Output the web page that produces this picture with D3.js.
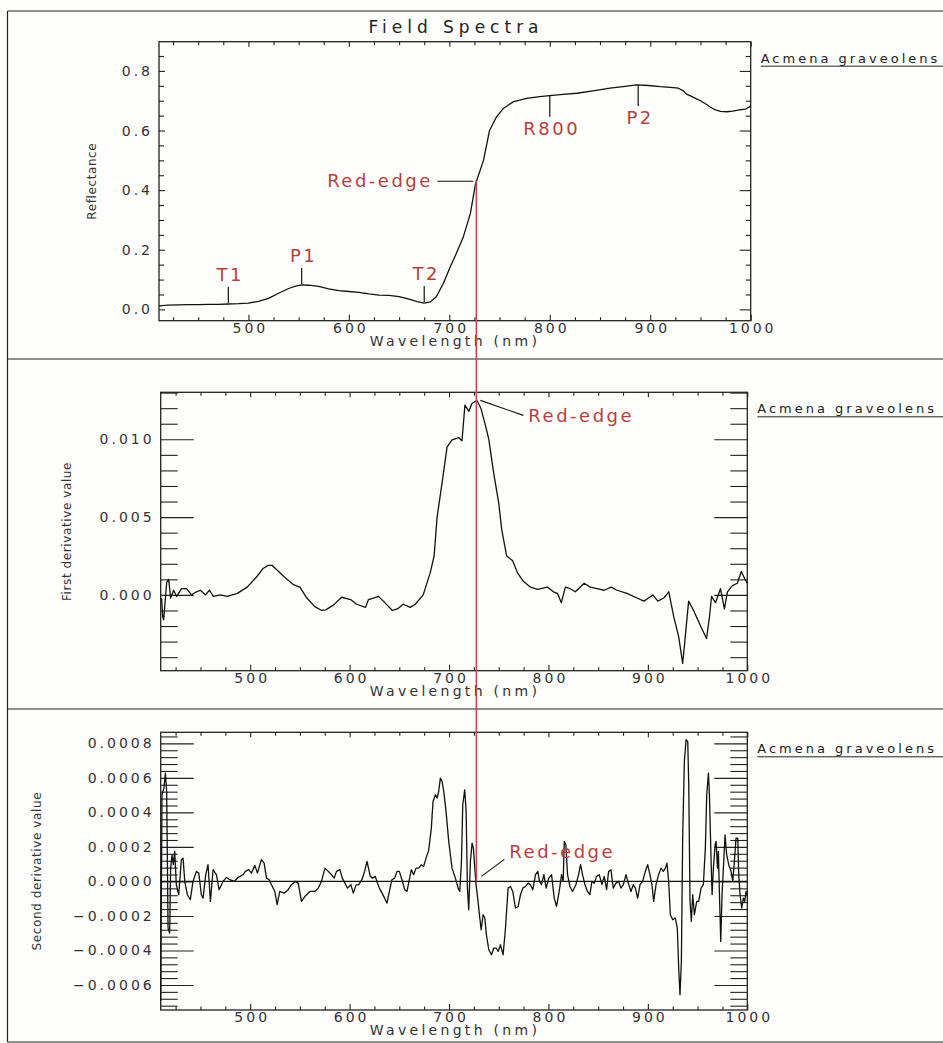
<!DOCTYPE html>
<html>
<head>
<meta charset="utf-8">
<script src="https://cdn.jsdelivr.net/npm/d3@7"></script>
<style>
  body { margin: 0; background: #fdfdfb; }
  svg { display: block; }
</style>
</head>
<body>
<div id="chart"></div>
<script>
// ---- data ----
var waveTicks = [500, 600, 700, 800, 900, 1000];
var reflTicks = [0, 0.2, 0.4, 0.6, 0.8];
var firstTicks = [0, 0.005, 0.010];
var secondTicks = [-0.0006, -0.0004, -0.0002, 0, 0.0002, 0.0004, 0.0006, 0.0008];

var reflWave = [411,420,430,440,450,460,470,480,490,500,510,520,530,540,547,553,560,570,580,590,
  600,610,620,630,640,650,660,668,675,681,687,694,701,707,714,721,726,734,740,747,754,764,777,790,800,
  813,827,843,860,875,886,898,910,920,928,933,936,940,945,950,955,960,965,970,976,982,989,995,1000];
var reflValue = [0.012,0.014,0.015,0.016,0.016,0.017,0.017,0.018,0.019,0.021,0.027,0.037,0.054,0.070,0.078,0.082,0.081,0.077,0.069,0.063,
  0.060,0.057,0.052,0.048,0.047,0.043,0.034,0.026,0.021,0.025,0.042,0.087,0.143,0.188,0.244,0.322,0.42,0.50,0.60,0.646,0.675,0.697,0.708,0.714,0.717,
  0.721,0.725,0.733,0.742,0.748,0.753,0.751,0.747,0.745,0.742,0.733,0.722,0.716,0.708,0.700,0.690,0.678,0.669,0.664,0.663,0.665,0.669,0.672,0.682];

var firstWave = [410,411,412,413,416,418,420,423,426,431,
  436,441,446,450,455,459,463,470,477,487,
  497,507,513,518,522,527,532,537,544,550,
  557,565,572,576,584,592,601,607,616,619,
  624,629,634,643,648,654,661,666,674,681,
  685,688,693,698,703,710,713,716,720,723,
  728,732,737,740,745,750,753,758,764,769,
  775,782,789,799,805,809,813,817,822,827,
  836,842,849,856,863,869,879,889,896,905,
  910,916,921,926,931,935,937,941,946,953,
  959,962,964,968,973,977,980,985,990,994,
  998,1000];
var firstValue = [-0.0002,-0.0003,-0.0014,-0.0016,0.0008,0.001,-0.0002,0.0003,-0.0001,0.0004,
  0.0004,0,0.0002,0.0003,0,0.0003,-0.0001,0,-0.0001,0.0001,
  0.0005,0.0012,0.0017,0.0019,0.0019,0.0016,0.0013,0.001,0.00064,0.0005,
  -0.0002,-0.00075,-0.001,-0.00096,-0.00064,-0.00015,-0.0003,-0.0006,-0.0008,-0.0003,
  -0.0002,-0.0001,-0.0004,-0.001,-0.0009,-0.0006,-0.0008,-0.0006,0,0.0014,
  0.0025,0.005,0.0072,0.0095,0.00996,0.0101,0.0099,0.0122,0.0118,0.0123,
  0.0125,0.012,0.0108,0.01,0.0078,0.0059,0.0042,0.0025,0.0022,0.0014,
  0.00086,0.0005,0.00036,0.0005,0.0002,0.0001,-0.0005,0.0005,0.0004,0.0002,
  0.00075,0.0005,0.0004,0.0003,0.0005,0.0003,0.0001,-0.0002,-0.0004,0,
  -0.0004,-0.0002,0.0002,-0.0014,-0.0027,-0.0044,-0.0031,-0.0004,-0.001,-0.002,
  -0.0028,-0.0014,-0.0001,-0.0005,0.0004,-0.0009,0.0002,0.0006,0.00075,0.0015,
  0.00096,0.00075];

var secondWave = [410,411.3,413.3,414.7,416,417.4,419,420,421.4,422.7,
  424.1,425.7,428.1,430.8,432.5,434.2,436.8,439.8,442.5,445.9,
  448.3,450.9,452.6,455.3,457.6,460,462.7,466,468.7,472.7,
  476.1,479.5,483.8,487.8,492.9,495.2,498.6,501.2,504.7,507.3,
  511.3,514,516.4,519.1,521.4,524.8,527.1,529.8,534.2,538.2,
  541.5,545.6,548.3,551.6,555,560,565.1,568.4,571.7,575.2,
  578.5,581.8,584.5,586.8,590.3,592.6,595.3,597.9,601.3,603.7,
  606.5,609,612.4,615.1,617.5,620.8,623.2,625.8,627.5,629.9,
  632.6,635.2,637.6,640,642.6,645.3,647.7,650,652.7,655.4,
  657.7,660.1,662.1,664.4,666.8,669.5,672.2,674.5,676.9,679.6,
  682.2,683.9,686.3,688,689.6,691.3,693,694.7,697,699.7,
  703,706.4,709.1,710.8,712.5,713.8,715.8,717.2,718.5,719.8,
  721.5,723.2,724.5,725.9,727.2,729.2,730.6,732.3,734.3,736,
  737.6,740,742.7,745,747.4,749.4,751.7,754.4,756.8,759.4,
  761.8,764.1,766.8,769.5,771.9,774.2,776.9,779.6,781.9,784.3,
  787,789.3,791,793,795.4,797.7,800.4,803.1,805.8,808.1,
  810.8,813.2,814.8,815.9,817.5,819.2,821.6,824.2,827.6,830.3,
  832.3,834.3,836.7,839.3,841.7,843.7,846.1,848.4,851.1,853.8,
  856.1,858.5,860.5,862.8,865.2,867.9,870.6,872.9,875.3,878,
  880.3,883,885.3,887.4,889.7,892.1,894.7,897.4,899.8,902.1,
  904.1,905.8,908.2,910.8,913.2,915.5,917.6,919.2,920.9,922.6,
  925,927.6,929.6,931,932.3,933.7,935,936.7,938.4,940.1,
  941.1,942.4,943.7,945.1,946.8,949.1,951.1,953.5,955.8,957.8,
  959.2,960.9,961.9,963.6,964.6,965.9,967.6,968.6,970,970.9,
  972,973.3,974.6,976.3,977.6,979.3,981.3,983.7,985.4,987,
  988.7,990.4,991.4,992.7,994.4,996.1,997.4,998.8,1000];
var secondValue = [-0.000695,0.000502,0.000541,0.000628,0.000521,-0.00027,-0.0003,0.000077,0.000154,0.000097,
  0.000174,-0.000019,-0.000077,0.000126,0.000135,0,-0.000077,-0.000106,0,0.000058,
  0.000048,-0.000077,-0.000097,0.000039,0.000097,-0.000116,0.000068,0.000039,-0.000048,0,
  0.000023,0.00001,0,0.000023,0.000039,0.000058,0.000068,0.000048,0.000093,0.000048,
  0.000126,0.000106,0.000019,0.00001,-0.000019,-0.000058,-0.000135,-0.000058,-0.000068,-0.000048,
  -0.000019,0,-0.00001,-0.000116,-0.000087,-0.000058,-0.000058,-0.000039,0,0.000077,
  0.000058,0.000039,0.000019,0.000058,0.000068,0.000019,-0.00001,-0.000039,-0.000019,-0.000068,
  -0.00002,-0.00002,0.00001,0.000058,0.000116,0.000029,0.000019,0.000029,0,-0.000039,
  -0.000068,-0.000097,-0.000126,-0.000058,0.00001,0.000019,0.000058,0.000058,0.00001,-0.000048,
  -0.000058,0.00001,0.000068,0.000039,0.000077,0.000077,0.000097,0.000087,0.000135,0.000183,
  0.000309,0.000463,0.000502,0.000483,0.000521,0.000599,0.000579,0.000521,0.000406,0.000232,
  0.000077,0.000019,-0.000039,-0.000058,0.000116,0.000444,0.000531,0.000406,-0.000039,-0.000164,
  0.000116,0.000222,0.000193,0.000077,-0.000019,-0.000116,-0.000193,-0.00028,-0.000193,-0.000212,
  -0.000309,-0.000396,-0.000425,-0.000386,-0.000386,-0.000406,-0.000367,-0.000425,-0.00027,-0.000039,
  -0.000029,-0.000058,-0.000154,-0.000145,-0.000077,-0.000039,-0.000029,-0.00001,-0.000019,-0.000048,
  0.000039,0.000058,0,-0.000019,0.000039,-0.000039,0.000019,0.000039,-0.000097,-0.000145,
  -0.000058,0.000039,0,0.000232,0.000212,0.000039,-0.000029,-0.000058,-0.000019,0.000039,
  0.000097,0.000039,-0.000019,-0.000058,-0.000077,0,-0.00001,0.000029,0.000039,-0.000019,
  0.000029,-0.000048,0.000058,0.000068,-0.000039,-0.00001,0,-0.000039,-0.000019,0.000039,
  -0.00001,-0.000058,-0.000019,-0.000039,-0.000097,-0.000019,0,0.000058,0.000097,0.000039,
  -0.000019,-0.000116,-0.000019,0.000039,0.000077,0.000058,0.000077,0.000106,0,-0.000193,
  -0.000222,-0.000212,-0.00027,-0.000502,-0.000657,-0.000463,0.000251,0.000695,0.000821,0.000811,
  0.00056,-0.000116,-0.000232,-0.000077,-0.000193,-0.000116,-0.000116,-0.000039,-0.000019,0.000193,
  0.000502,0.000628,0.000502,0.000116,-0.000077,0.000077,0.000212,0.000232,0.000077,0.000174,
  -0.000077,-0.000348,-0.000077,0.000116,0.00027,0.000154,0.000097,0.000058,0,0.000116,
  0.000251,0.000251,0.000039,-0.000077,-0.000154,-0.000097,-0.000116,-0.000058,-0.000077];

var featureNames = ['T1', 'P1', 'T2', 'R800', 'P2'];
var featureWaves = [480, 553, 675, 800, 888];
var featureRefl = [0.018, 0.082, 0.021, 0.717, 0.753];

var redEdgeWave = 727.5;
var redEdgeRefl = 0.43;
var redEdgeFirst = 0.0125;

var chartTitle = 'Field Spectra';
var speciesName = 'Acmena graveolens';
var xTitle = 'Wavelength (nm)';

// ---- layout ----
var width = 943, height = 1043;
var font = "'DejaVu Sans', sans-serif";
var red = '#b5403f';

var panels = [
  { wave: reflWave, value: reflValue, x0: 159, x1: 750.7, y0: 41.7, y1: 320.7,
    xDomain: [411, 1000], yDomain: [-0.038, 0.898], ticks: reflTicks,
    minor: d3.range(0, 18).map(function(i) { return i * 0.05; }),
    fmt: d3.format('.1f'), tickL: [6, 5], tickR: [11, 5], label: 'Reflectance', labelX: 96 },
  { wave: firstWave, value: firstValue, x0: 160.7, x1: 747.3, y0: 392.3, y1: 670.7,
    xDomain: [410, 1000], yDomain: [-0.00487, 0.01302], ticks: firstTicks,
    minor: d3.range(-4, 14).map(function(i) { return i * 0.001; }),
    fmt: d3.format('.3f'), tickL: [33, 17], tickR: [33, 17], label: 'First derivative value', labelX: 71 },
  { wave: secondWave, value: secondValue, x0: 160.7, x1: 747.3, y0: 732.3, y1: 1010,
    xDomain: [410, 1000], yDomain: [-0.000745, 0.000864], ticks: secondTicks,
    minor: d3.range(-18, 22).map(function(i) { return i * 0.00004; }),
    fmt: d3.format('.4f'), tickL: [33, 17], tickR: [33, 17], label: 'Second derivative value', labelX: 41,
    zeroLine: true }
];

var svg = d3.select('#chart').append('svg')
  .attr('width', width)
  .attr('height', height)
  .style('background', '#fdfdfb');

// outer frame and panel separators
var frameRows = [11, 359, 709, 1042];
frameRows.forEach(function(y) {
  svg.append('line').attr('x1', 7.5).attr('x2', width).attr('y1', y).attr('y2', y)
    .attr('stroke', '#222').attr('stroke-width', 1.2);
});
svg.append('line').attr('x1', 7.5).attr('x2', 7.5).attr('y1', 11).attr('y2', 1042)
  .attr('stroke', '#222').attr('stroke-width', 1.2);

svg.append('text')
  .attr('x', 456).attr('y', 33)
  .attr('text-anchor', 'middle')
  .attr('font-family', font).attr('font-size', 17)
  .attr('letter-spacing', 5)
  .attr('fill', '#222')
  .text(chartTitle);

var isMajor = function(v, ticks) {
  return ticks.some(function(t) { return Math.abs(t - v) < 1e-9; });
};

var drawPanel = function(p) {
  p.x = d3.scaleLinear().domain(p.xDomain).range([p.x0, p.x1]);
  p.y = d3.scaleLinear().domain(p.yDomain).range([p.y1, p.y0]);

  var minorY = p.minor.filter(function(v) {
    return !isMajor(v, p.ticks) && v >= p.yDomain[0] && v <= p.yDomain[1];
  });
  var minorX = d3.range(425, 1000, 25).filter(function(v) { return v % 100 !== 0; });

  var axisStyle = function(g) {
    g.select('.domain').remove();
    g.selectAll('line').attr('stroke', '#222').attr('stroke-width', 1.1);
  };

  // left axis
  svg.append('g').attr('transform', 'translate(' + p.x0 + ',0)')
    .call(d3.axisLeft(p.y).tickValues(p.ticks).tickSizeInner(-p.tickL[0]).tickSizeOuter(0)
      .tickPadding(6).tickFormat(p.fmt))
    .call(axisStyle)
    .call(function(g) {
      g.selectAll('text').attr('font-family', font).attr('font-size', 14)
        .attr('letter-spacing', 3).attr('fill', '#333');
    });
  svg.append('g').attr('transform', 'translate(' + p.x0 + ',0)')
    .call(d3.axisLeft(p.y).tickValues(minorY).tickSizeInner(-p.tickL[1]).tickSizeOuter(0).tickFormat(''))
    .call(axisStyle);

  // right axis
  svg.append('g').attr('transform', 'translate(' + p.x1 + ',0)')
    .call(d3.axisRight(p.y).tickValues(p.ticks).tickSizeInner(-p.tickR[0]).tickSizeOuter(0).tickFormat(''))
    .call(axisStyle);
  svg.append('g').attr('transform', 'translate(' + p.x1 + ',0)')
    .call(d3.axisRight(p.y).tickValues(minorY).tickSizeInner(-p.tickR[1]).tickSizeOuter(0).tickFormat(''))
    .call(axisStyle);

  // bottom axis
  svg.append('g').attr('transform', 'translate(0,' + p.y1 + ')')
    .call(d3.axisBottom(p.x).tickValues(waveTicks).tickSizeInner(-6).tickSizeOuter(0).tickFormat(d3.format('d')))
    .call(axisStyle)
    .call(function(g) {
      g.selectAll('text').attr('y', 12).attr('dy', null).attr('dx', 1.5)
        .attr('font-family', font).attr('font-size', 14)
        .attr('letter-spacing', 3).attr('fill', '#333');
    });
  svg.append('g').attr('transform', 'translate(0,' + p.y1 + ')')
    .call(d3.axisBottom(p.x).tickValues(minorX).tickSizeInner(-3.5).tickSizeOuter(0).tickFormat(''))
    .call(axisStyle);

  // top axis
  svg.append('g').attr('transform', 'translate(0,' + p.y0 + ')')
    .call(d3.axisTop(p.x).tickValues(waveTicks).tickSizeInner(-5).tickSizeOuter(0).tickFormat(''))
    .call(axisStyle);
  svg.append('g').attr('transform', 'translate(0,' + p.y0 + ')')
    .call(d3.axisTop(p.x).tickValues(minorX).tickSizeInner(-3.5).tickSizeOuter(0).tickFormat(''))
    .call(axisStyle);

  svg.append('rect')
    .attr('x', p.x0).attr('y', p.y0)
    .attr('width', p.x1 - p.x0).attr('height', p.y1 - p.y0)
    .attr('fill', 'none').attr('stroke', '#222').attr('stroke-width', 1.3);

  if (p.zeroLine) {
    svg.append('line')
      .attr('x1', p.x0).attr('x2', p.x1)
      .attr('y1', p.y(0)).attr('y2', p.y(0))
      .attr('stroke', '#111').attr('stroke-width', 1.1);
  }

  var line = d3.line()
    .x(function(d) { return p.x(d[0]); })
    .y(function(d) { return p.y(d[1]); });

  svg.append('path')
    .datum(d3.zip(p.wave, p.value))
    .attr('d', line)
    .attr('fill', 'none')
    .attr('stroke', '#111')
    .attr('stroke-width', 1.3)
    .attr('stroke-linejoin', 'round');

  // axis titles
  svg.append('text')
    .attr('x', 455).attr('y', p.y1 + 25)
    .attr('text-anchor', 'middle')
    .attr('font-family', font).attr('font-size', 14)
    .attr('letter-spacing', 3.3).attr('fill', '#333')
    .text(xTitle);

  svg.append('text')
    .attr('transform', 'translate(' + p.labelX + ',' + ((p.y0 + p.y1) / 2) + ') rotate(-90)')
    .attr('text-anchor', 'middle')
    .attr('font-family', font).attr('font-size', 12)
    .attr('letter-spacing', 0.6).attr('fill', '#333')
    .text(p.label);

  // legend
  var lx = p.x1 + 10, ly = p.y0 + 21;
  svg.append('text')
    .attr('x', lx).attr('y', ly)
    .attr('font-family', font).attr('font-size', 13)
    .attr('letter-spacing', 3).attr('fill', '#222')
    .text(speciesName);
  svg.append('line')
    .attr('x1', lx).attr('x2', width).attr('y1', ly + 3.5).attr('y2', ly + 3.5)
    .attr('stroke', '#222').attr('stroke-width', 1);
};

panels.forEach(drawPanel);

var reflPanel = panels[0], firstPanel = panels[1], secondPanel = panels[2];

// feature markers on the reflectance curve
featureNames.forEach(function(name, i) {
  var fx = reflPanel.x(featureWaves[i]);
  var fy = reflPanel.y(featureRefl[i]);
  var below = featureWaves[i] > redEdgeWave;
  svg.append('line')
    .attr('x1', fx).attr('x2', fx)
    .attr('y1', below ? fy : fy - 1)
    .attr('y2', below ? fy + 21 : fy - 17)
    .attr('stroke', '#111').attr('stroke-width', 1.2);
  svg.append('text')
    .attr('x', fx + 2).attr('y', below ? fy + 39 : fy - 23)
    .attr('text-anchor', 'middle')
    .attr('font-family', font).attr('font-size', 18)
    .attr('letter-spacing', 2.5).attr('fill', red)
    .text(name);
});

// red-edge guide across the three panels
var rx = firstPanel.x(redEdgeWave);
var ryTop = reflPanel.y(redEdgeRefl);
svg.append('line')
  .attr('x1', rx).attr('x2', rx)
  .attr('y1', ryTop).attr('y2', secondPanel.y(0))
  .attr('stroke', '#bf4a4c').attr('stroke-width', 1.6);

svg.append('line')
  .attr('x1', rx - 39).attr('x2', rx - 3).attr('y1', ryTop).attr('y2', ryTop)
  .attr('stroke', '#111').attr('stroke-width', 1.1);
svg.append('text')
  .attr('x', rx - 43.5).attr('y', ryTop + 6)
  .attr('text-anchor', 'end')
  .attr('font-family', font).attr('font-size', 18)
  .attr('letter-spacing', 2.5).attr('fill', red)
  .text('Red-edge');

var ryMid = firstPanel.y(redEdgeFirst);
svg.append('line')
  .attr('x1', rx + 4).attr('x2', rx + 47).attr('y1', ryMid).attr('y2', ryMid + 15)
  .attr('stroke', '#111').attr('stroke-width', 1.1);
svg.append('text')
  .attr('x', rx + 52).attr('y', ryMid + 22)
  .attr('font-family', font).attr('font-size', 18)
  .attr('letter-spacing', 2.5).attr('fill', red)
  .text('Red-edge');

var ryBot = secondPanel.y(0);
svg.append('line')
  .attr('x1', rx + 5).attr('x2', rx + 28).attr('y1', ryBot - 5).attr('y2', ryBot - 22)
  .attr('stroke', '#111').attr('stroke-width', 1.1);
svg.append('text')
  .attr('x', rx + 33).attr('y', ryBot - 23.5)
  .attr('font-family', font).attr('font-size', 18)
  .attr('letter-spacing', 2.5).attr('fill', red)
  .text('Red-edge');
</script>
</body>
</html>
